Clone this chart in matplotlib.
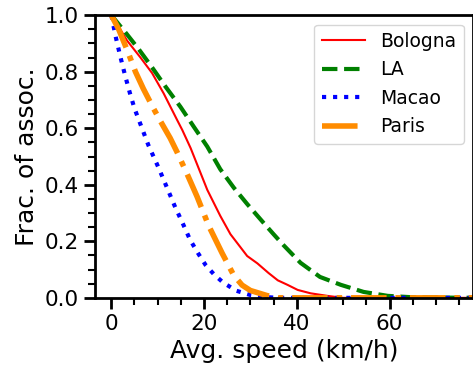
import matplotlib
matplotlib.use("Agg")
import matplotlib.pyplot as plt
from matplotlib.ticker import MultipleLocator

bologna_x = [0, 1.2, 3.4, 6.3, 8.8, 11.3, 14.2, 15.3, 17.1, 20.7, 23.5, 25.7, 27.9, 29.3,
             31.5, 33.9, 35.9, 38, 40.2, 43, 46.6, 50, 78]
bologna_y = [1.0, 0.97, 0.91, 0.85, 0.795, 0.723, 0.629, 0.594, 0.53, 0.382, 0.29, 0.225,
             0.178, 0.148, 0.122, 0.088, 0.062, 0.046, 0.028, 0.016, 0.007, 0.0, 0.0]

la_x = [0, 3, 5.9, 8.8, 11.7, 14.9, 17.8, 20.7, 23.5, 26.4, 29.3, 32.9, 35, 37.1, 40.8,
        45, 49.5, 54.4, 59.6, 65, 78]
la_y = [1.0, 0.94, 0.88, 0.815, 0.747, 0.676, 0.605, 0.535, 0.455, 0.39, 0.332, 0.264,
        0.225, 0.187, 0.124, 0.074, 0.046, 0.021, 0.007, 0.002, 0.0]

macao_x = [0, 1, 2, 3, 4, 5, 6.5, 8, 10.2, 12, 13.8, 15.5, 17, 18.7, 20.3, 22.2, 24.2,
           27, 30, 33, 36, 78]
macao_y = [1.0, 0.92, 0.85, 0.785, 0.725, 0.67, 0.605, 0.54, 0.46, 0.39, 0.32, 0.26, 0.205,
           0.158, 0.117, 0.082, 0.053, 0.025, 0.01, 0.003, 0.0, 0.0]

paris_x = [0, 1.6, 3.7, 5.2, 6.9, 9.1, 10.6, 12.7, 14.2, 16.3, 18.5, 21, 23.9, 26.4,
           28.2, 30, 33.6, 36, 78]
paris_y = [1.0, 0.95, 0.865, 0.80, 0.74, 0.67, 0.625, 0.565, 0.515, 0.44, 0.358, 0.255,
           0.158, 0.08, 0.045, 0.026, 0.008, 0.0, 0.0]

fig = plt.figure(figsize=(4.73, 3.7), dpi=100)
ax = fig.add_axes([0.201, 0.195, 0.799, 0.764])

ax.plot(bologna_x, bologna_y, color="red", lw=1.5, ls="-", label="Bologna")
ax.plot(la_x, la_y, color="green", lw=3, ls="--", label="LA")
ax.plot(macao_x, macao_y, color="blue", lw=3, ls=":", label="Macao")
ax.plot(paris_x, paris_y, color="darkorange", lw=4, ls="-.", label="Paris")

ax.set_xlim(-3.5, 78)
ax.set_ylim(0, 1)
ax.xaxis.set_major_locator(MultipleLocator(20))
ax.xaxis.set_minor_locator(MultipleLocator(5))
ax.yaxis.set_major_locator(MultipleLocator(0.2))
ax.yaxis.set_minor_locator(MultipleLocator(0.05))
ax.tick_params(which="major", length=8, width=2, labelsize=15.5)
ax.tick_params(which="minor", length=5, width=1.5)
for s in ax.spines.values():
    s.set_linewidth(2)

ax.set_xlabel("Avg. speed (km/h)", fontsize=18)
ax.set_ylabel("Frac. of assoc.", fontsize=18)
ax.legend(loc="upper right", fontsize=13.5, handlelength=2.3)

fig.savefig("out.png", dpi=100)
